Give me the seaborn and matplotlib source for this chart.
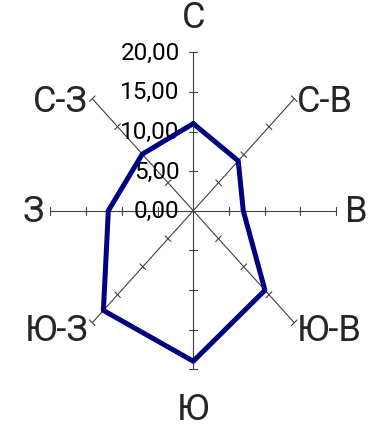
import numpy as np
import pandas as pd
import matplotlib.pyplot as plt
import seaborn as sns

# Wind rose data
directions = ["С", "С-В", "В", "Ю-В", "Ю", "Ю-З", "З", "С-З"]
values = [11.0, 8.9, 7.0, 14.2, 19.0, 17.8, 11.9, 10.1]
r_ticks = [0, 5, 10, 15, 20]
r_tick_labels = ["0,00", "5,00", "10,00", "15,00", "20,00"]
r_max = 20

sns.set_style("white")
plt.rcParams["font.family"] = ["Roboto", "DejaVu Sans"]

angles = np.deg2rad(np.arange(len(directions)) * 45)

df = pd.DataFrame({
    "direction": directions + directions[:1],
    "value": values + values[:1],
    "angle": np.append(angles, angles[0]),
})
df["x"] = df["value"] * np.sin(df["angle"])
df["y"] = df["value"] * np.cos(df["angle"])

fig = plt.figure(figsize=(3.71, 4.27), dpi=100)
ax = fig.add_axes([0, 0, 1, 1])

# axes of the rose with tick marks
axis_color = "#404040"
for a in angles:
    ax.plot([0, r_max * np.sin(a)], [0, r_max * np.cos(a)],
            color=axis_color, lw=0.8, zorder=1)
    for t in r_ticks[1:]:
        cx, cy = t * np.sin(a), t * np.cos(a)
        px, py = np.cos(a) * 0.55, -np.sin(a) * 0.5
        ax.plot([cx - px, cx + px], [cy - py, cy + py],
                color=axis_color, lw=0.8, zorder=1)

sns.lineplot(data=df, x="x", y="y", sort=False, estimator=None,
             color="#000080", lw=3.6, ax=ax, zorder=3)

# radial labels on the north axis
for t, lab in zip(r_ticks, r_tick_labels):
    ax.text(-1.9, t, lab, ha="right", va="center", fontsize=17.5,
            color="black", zorder=2)

# direction labels
fs = 26
for a, name in zip(angles, directions):
    ex, ey = r_max * np.sin(a), r_max * np.cos(a)
    deg = round(np.rad2deg(a))
    if deg == 0:
        ax.text(ex, ey + 2.2, name, ha="center", va="bottom", fontsize=fs)
    elif deg == 180:
        ax.text(ex, ey - 2.8, name, ha="center", va="top", fontsize=fs)
    elif deg == 90:
        ax.text(ex + 1.2, ey, name, ha="left", va="center", fontsize=fs)
    elif deg == 270:
        ax.text(ex - 0.9, ey, name, ha="right", va="center", fontsize=fs)
    elif deg in (45, 135):
        ax.text(ex + 0.3, ey - 0.9 if deg == 135 else ey - 0.3, name,
                ha="left", va="center", fontsize=fs)
    else:
        ax.text(ex - 0.6, ey - 0.9 if deg == 225 else ey - 0.3, name,
                ha="right", va="center", fontsize=fs)

ax.set_xlim(-27.07, 24.89)
ax.set_ylim(-27.18, 26.73)
ax.set_xlabel("")
ax.set_ylabel("")
ax.axis("off")

plt.savefig("out.png", dpi=100)
